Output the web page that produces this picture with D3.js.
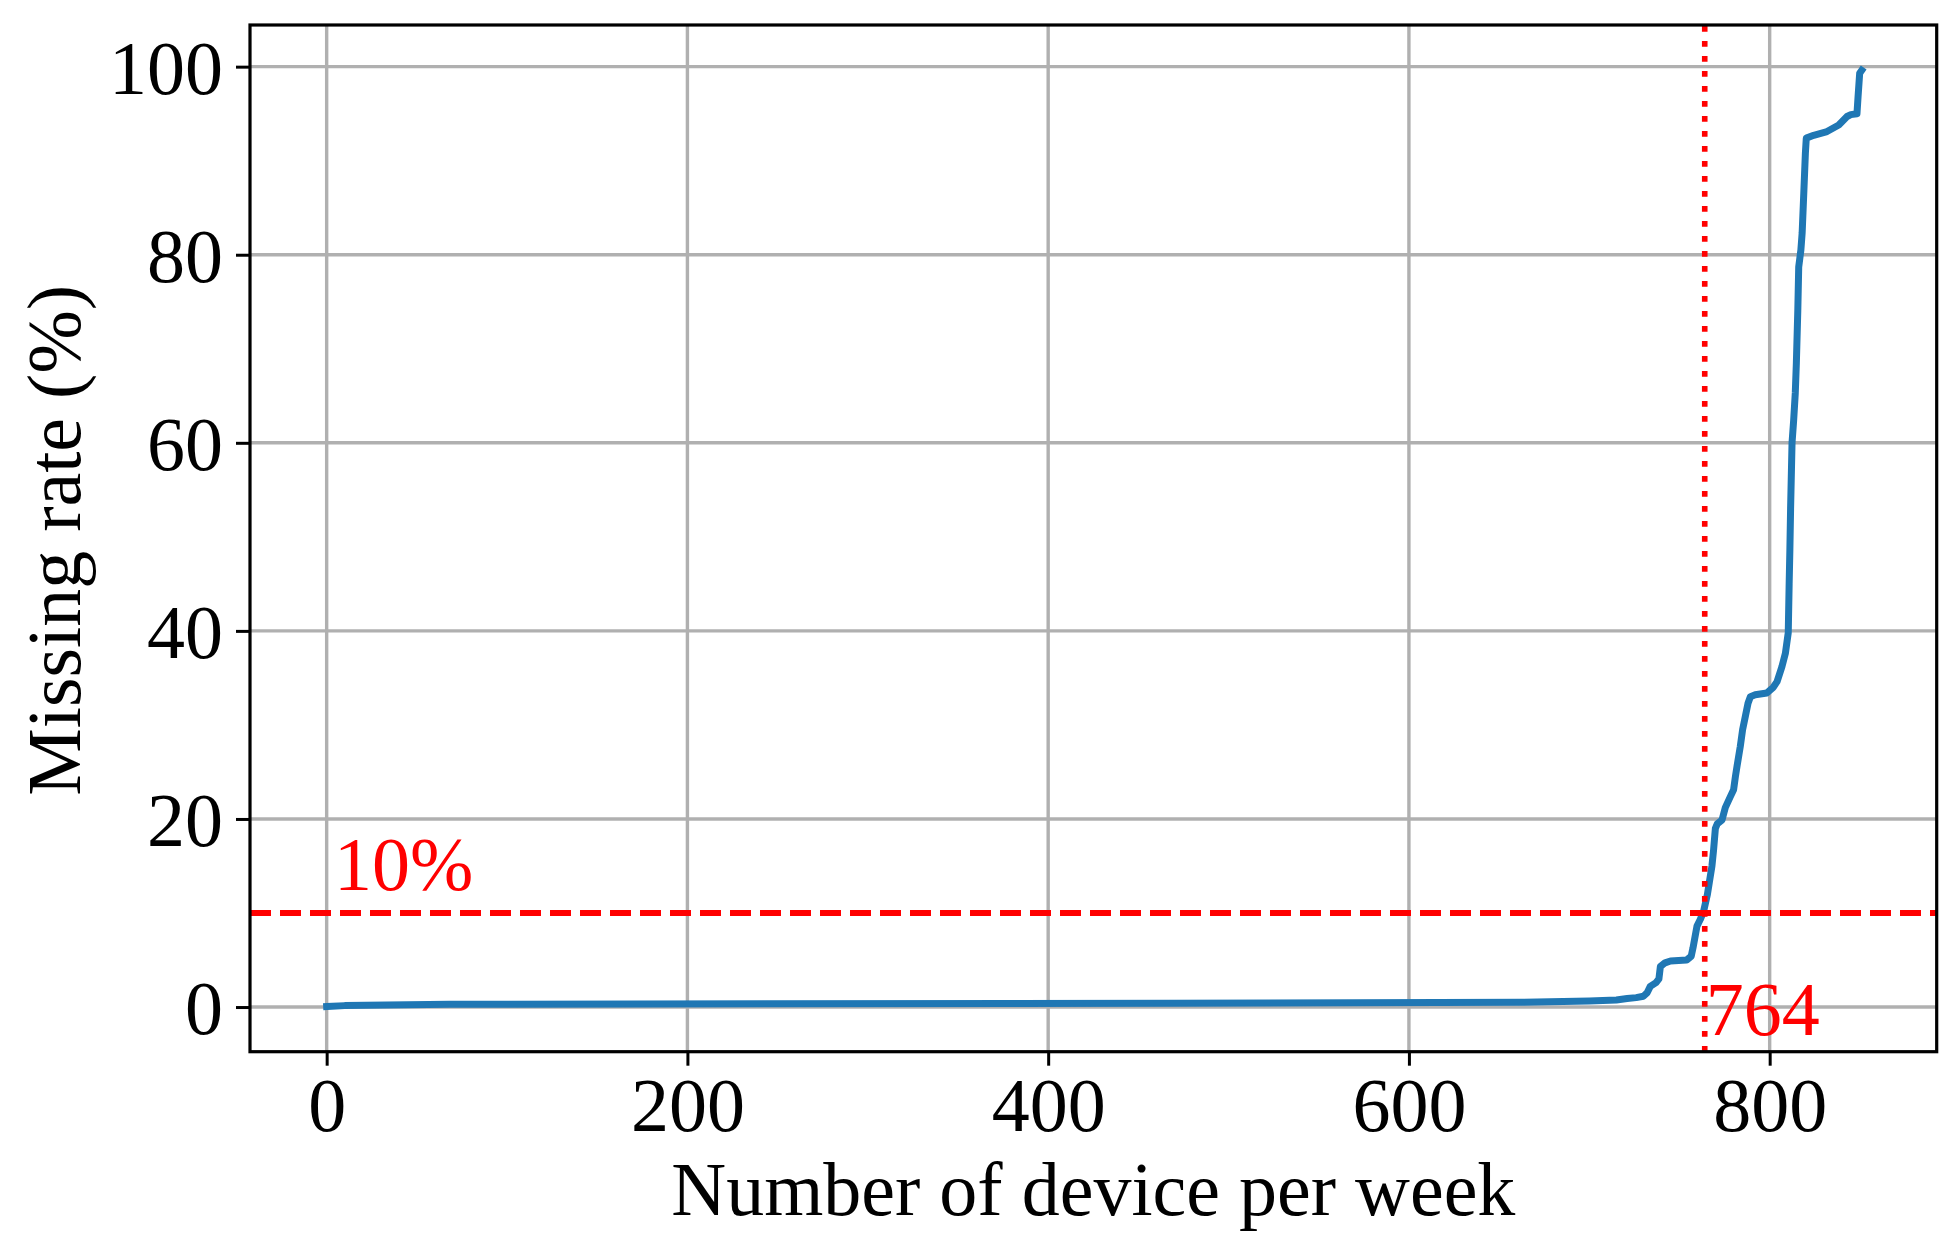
<!DOCTYPE html>
<html>
<head>
<meta charset="utf-8">
<script src="https://cdn.jsdelivr.net/npm/d3@7"></script>
<style>
  html, body { margin: 0; padding: 0; background: #ffffff; }
  svg { display: block; }
  text { font-family: "Liberation Serif", "Times New Roman", "DejaVu Serif", serif; }
</style>
</head>
<body>
<svg id="chart" width="1960" height="1253"></svg>
<script>
// ---- data ----
const deviceIndex = [0, 10, 68, 470, 663, 700, 715, 721, 726, 730, 732, 733.8, 737, 738.6, 739.4, 742, 745, 754, 756.5, 757.5, 759.7, 761.5, 763.4, 765.5, 766.5, 768, 768.9, 769.9, 771, 773.6, 775.4, 778, 780, 781, 781.9, 783.7, 785, 786.5, 788, 789.3, 792, 798.5, 802, 804.1, 806.8, 808.7, 810.3, 810.8, 811.2, 811.6, 812.4, 813.3, 814.2, 814.8, 815.6, 816.1, 817.3, 818, 818.9, 819.8, 820.3, 824.4, 831.8, 838.3, 842.9, 845, 848.4, 849, 849.9, 851];
const missingRate = [0.05, 0.15, 0.3, 0.4, 0.5, 0.65, 0.75, 0.9, 1.0, 1.15, 1.5, 2.2, 2.6, 3.0, 4.3, 4.7, 4.9, 5.0, 5.4, 6.3, 8.6, 9.3, 10.2, 12.0, 13.2, 15.0, 16.7, 19.0, 19.5, 19.9, 21.2, 22.3, 23.1, 24.5, 25.6, 27.7, 29.5, 30.9, 32.3, 33.0, 33.2, 33.4, 34.0, 34.6, 36.2, 37.6, 39.8, 45.0, 48.6, 53.0, 60.0, 62.4, 65.3, 68.5, 74.1, 78.7, 80.5, 82.3, 86.5, 90.8, 92.4, 92.7, 93.1, 93.8, 94.7, 94.9, 95.0, 96.8, 99.3, 99.6];
const xTicks = [0, 200, 400, 600, 800];
const yTicks = [0, 20, 40, 60, 80, 100];
const thresholdRate = 10;
const thresholdDevice = 764;
const thresholdRateLabel = "10%";
const thresholdDeviceLabel = "764";
const xLabel = "Number of device per week";
const yLabel = "Missing rate (%)";

// ---- layout ----
const plot = { left: 250, right: 1936.7, top: 25, bottom: 1051.7 };
const fontSize = 76;
const svg = d3.select("#chart");

const x = d3.scaleLinear().domain([-42.5, 892.6]).range([plot.left, plot.right]);
const y = d3.scaleLinear().domain([-4.75, 104.43]).range([plot.bottom, plot.top]);

// grid
const grid = svg.append("g");
grid.selectAll("line.vx").data(xTicks).join("line")
  .attr("x1", d => x(d)).attr("x2", d => x(d))
  .attr("y1", plot.top).attr("y2", plot.bottom)
  .attr("stroke", "#b0b0b0").attr("stroke-width", 3.4);
grid.selectAll("line.hy").data(yTicks).join("line")
  .attr("x1", plot.left).attr("x2", plot.right)
  .attr("y1", d => y(d)).attr("y2", d => y(d))
  .attr("stroke", "#b0b0b0").attr("stroke-width", 3.4);

// data line
const pts = deviceIndex.map((d, i) => [d, missingRate[i]]);
svg.append("path")
  .datum(pts)
  .attr("fill", "none")
  .attr("stroke", "#1f77b4")
  .attr("stroke-width", 7)
  .attr("stroke-linejoin", "round")
  .attr("stroke-linecap", "square")
  .attr("d", d3.line().x(d => x(d[0])).y(d => y(d[1])));

// threshold lines
svg.append("line")
  .attr("x1", plot.left).attr("x2", plot.right)
  .attr("y1", y(thresholdRate)).attr("y2", y(thresholdRate))
  .attr("stroke", "#ff0000").attr("stroke-width", 6)
  .attr("stroke-dasharray", "21,9");
svg.append("line")
  .attr("x1", x(thresholdDevice)).attr("x2", x(thresholdDevice))
  .attr("y1", plot.bottom).attr("y2", plot.top)
  .attr("stroke", "#ff0000").attr("stroke-width", 5.6)
  .attr("stroke-dasharray", "5.6,9.4");

// annotations
svg.append("text")
  .attr("x", x(4)).attr("y", y(12.4))
  .attr("fill", "#ff0000").attr("font-size", fontSize)
  .text(thresholdRateLabel);
svg.append("text")
  .attr("x", x(thresholdDevice) + 1).attr("y", y(-3))
  .attr("fill", "#ff0000").attr("font-size", fontSize)
  .text(thresholdDeviceLabel);

// frame
svg.append("rect")
  .attr("x", plot.left).attr("y", plot.top)
  .attr("width", plot.right - plot.left).attr("height", plot.bottom - plot.top)
  .attr("fill", "none").attr("stroke", "#000").attr("stroke-width", 3.2);

// axes
const xAxis = d3.axisBottom(x).tickValues(xTicks).tickSize(14).tickPadding(14).tickFormat(d3.format("d"));
const gx = svg.append("g").attr("transform", `translate(0,${plot.bottom})`).call(xAxis);
gx.select(".domain").remove();
gx.selectAll(".tick line").attr("stroke", "#000").attr("stroke-width", 3);
gx.selectAll(".tick text").attr("font-size", fontSize).attr("fill", "#000")
  .attr("font-family", '"Liberation Serif", "Times New Roman", serif')
  .attr("dy", null).attr("y", 79);

const yAxis = d3.axisLeft(y).tickValues(yTicks).tickSize(14).tickPadding(14).tickFormat(d3.format("d"));
const gy = svg.append("g").attr("transform", `translate(${plot.left},0)`).call(yAxis);
gy.select(".domain").remove();
gy.selectAll(".tick line").attr("stroke", "#000").attr("stroke-width", 3);
gy.selectAll(".tick text").attr("font-size", fontSize).attr("fill", "#000")
  .attr("font-family", '"Liberation Serif", "Times New Roman", serif')
  .attr("dy", null).attr("y", 26.5).attr("x", -27);

// axis labels
svg.append("text")
  .attr("x", (plot.left + plot.right) / 2).attr("y", 1215)
  .attr("text-anchor", "middle").attr("font-size", fontSize).attr("fill", "#000")
  .text(xLabel);
svg.append("text")
  .attr("transform", `translate(80,${(plot.top + plot.bottom) / 2 + 2}) rotate(-90)`)
  .attr("text-anchor", "middle").attr("font-size", fontSize).attr("fill", "#000")
  .text(yLabel);
</script>
</body>
</html>
